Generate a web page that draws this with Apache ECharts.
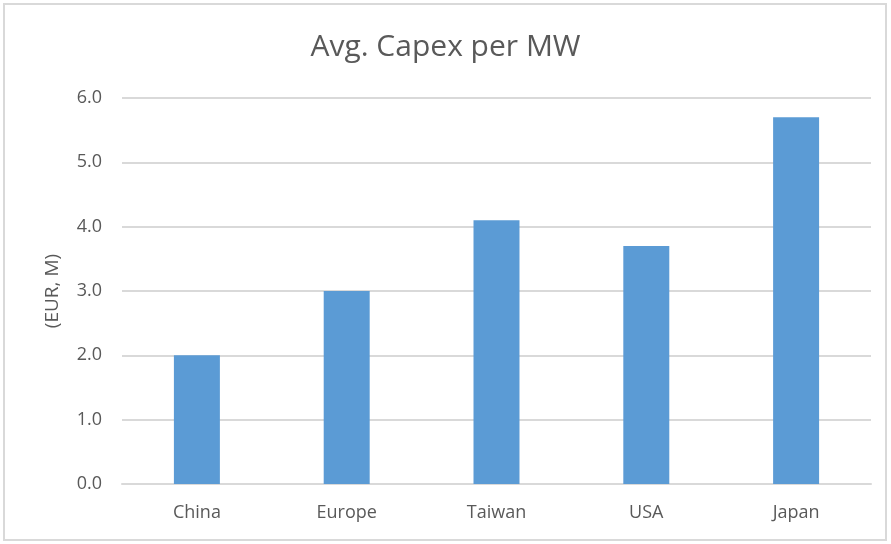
<!DOCTYPE html>
<html>
<head>
<meta charset="utf-8">
<script src="https://cdn.jsdelivr.net/npm/echarts@6/dist/echarts.min.js"></script>
<style>
  html, body { margin: 0; padding: 0; background: #fff; }
  #chart { width: 891px; height: 544px; }
</style>
</head>
<body>
<div id="chart"></div>
<script>
// Average capital expenditure per megawatt, by market
const regions = ['China', 'Europe', 'Taiwan', 'USA', 'Japan'];
const capexPerMW = [2.0, 3.0, 4.1, 3.7, 5.7];
const yTicks = { min: 0, max: 6, step: 1 };

const textColor = '#595959';
const gridColor = '#d9d9d9';
const fontFamily = '"Open Sans", "Liberation Sans", sans-serif';

const chart = echarts.init(document.getElementById('chart'), null, { renderer: 'canvas' });

chart.setOption({
  animation: false,
  backgroundColor: '#ffffff',
  graphic: [{
    type: 'rect',
    shape: { x: 4, y: 4, width: 882, height: 536 },
    style: { fill: 'none', stroke: gridColor, lineWidth: 2 },
    silent: true
  }],
  title: {
    text: 'Avg. Capex per MW',
    left: 'center',
    top: 27,
    textStyle: { color: textColor, fontFamily: fontFamily, fontSize: 30, fontWeight: 'normal' }
  },
  grid: { left: 122, right: 20, top: 98, bottom: 60 },
  xAxis: {
    type: 'category',
    data: regions,
    axisLine: { show: true, lineStyle: { color: gridColor, width: 2 } },
    axisTick: { show: false },
    axisLabel: { color: textColor, fontFamily: fontFamily, fontSize: 18, margin: 20 }
  },
  yAxis: {
    type: 'value',
    min: yTicks.min,
    max: yTicks.max,
    interval: yTicks.step,
    name: '(EUR, M)',
    nameLocation: 'middle',
    nameGap: 60,
    nameRotate: 90,
    nameTextStyle: { color: textColor, fontFamily: fontFamily, fontSize: 19 },
    axisLine: { show: false },
    axisTick: { show: false },
    axisLabel: {
      color: textColor, fontFamily: fontFamily, fontSize: 18, margin: 20,
      formatter: v => v.toFixed(1)
    },
    splitLine: { lineStyle: { color: gridColor, width: 2 } }
  },
  series: [{
    type: 'bar',
    data: capexPerMW,
    barWidth: '30.7%',
    itemStyle: { color: '#5b9bd5' }
  }]
});
</script>
</body>
</html>
